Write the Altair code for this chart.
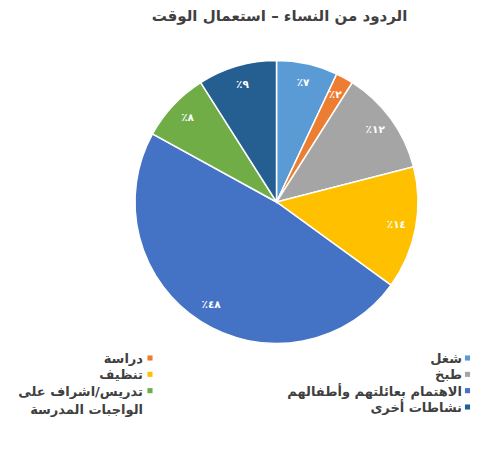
import altair as alt
import pandas as pd

title = "الردود من النساء – استعمال الوقت"
categories = [
    "شغل",
    "دراسة",
    "طبخ",
    "تنظيف",
    "الاهتمام بعائلتهم وأطفالهم",
    "تدريس/اشراف على الواجبات المدرسة",
    "نشاطات أخرى",
]
values = [7, 2, 12, 14, 48, 8, 9]
colors = ["#5B9BD5", "#ED7D31", "#A5A5A5", "#FFC000", "#4472C4", "#70AD47", "#255E91"]

AR_DIGITS = str.maketrans("0123456789", "٠١٢٣٤٥٦٧٨٩")


def ar_pct(v):
    return "\u200f" + str(v).translate(AR_DIGITS) + "٪" + "\u200f"


pie_df = pd.DataFrame({
    "cat": categories,
    "val": values,
    "order": list(range(len(categories))),
    "lbl": [ar_pct(v) for v in values],
})

leg_df = pd.DataFrame({
    "cat": categories,
    "text": [c.replace("على ", "على\n") for c in categories],
    "row": [i // 2 for i in range(len(categories))],
    "col": [i % 2 for i in range(len(categories))],
})

CX, CY, R = 268.5, 156, 141.5
FONT = "DejaVu Sans"

color_scale = alt.Scale(domain=categories, range=colors)

base = alt.Chart(pie_df).encode(
    theta=alt.Theta("val:Q", stack=True),
    order=alt.Order("order:Q"),
)

arcs = base.mark_arc(outerRadius=R, stroke="white", strokeWidth=1.5).encode(
    color=alt.Color("cat:N", scale=color_scale, legend=None),
    x=alt.value(CX),
    y=alt.value(CY),
)

labels = base.mark_text(radius=122, font=FONT, fontSize=10.5, fontWeight="bold",
                        color="white").encode(
    text="lbl:N",
    x=alt.value(CX),
    y=alt.value(CY),
)

row_scale = alt.Scale(type="point", domain=[0, 1, 2, 3], range=[312, 361], padding=0)

leg_text = alt.Chart(leg_df).mark_text(
    font=FONT, fontSize=13, fontWeight="bold", color="#404040",
    align="right", baseline="alphabetic", lineBreak="\n", lineHeight=18, dy=5,
).encode(
    x=alt.X("col:O", scale=alt.Scale(type="point", domain=[0, 1], range=[454, 135], padding=0), axis=None),
    y=alt.Y("row:O", scale=row_scale, axis=None),
    text="text:N",
)

leg_sym = alt.Chart(leg_df).mark_square(size=26, opacity=1).encode(
    x=alt.X("col:O", scale=alt.Scale(type="point", domain=[0, 1], range=[459.5, 142], padding=0), axis=None),
    y=alt.Y("row:O", scale=row_scale, axis=None),
    color=alt.Color("cat:N", scale=color_scale, legend=None),
)

chart = alt.layer(arcs, labels, leg_text, leg_sym).resolve_scale(x="independent").properties(
    width=483,
    height=396,
    padding={"top": 38, "left": 0, "right": 0, "bottom": 0},
    autosize=alt.AutoSizeParams(type="none"),
    title=alt.TitleParams(title, font=FONT, fontSize=15, fontWeight="bold",
                          color="#404040", anchor="middle", dx=30, offset=22),
).configure_view(stroke=None)

chart.save("out.html", embed_options={"renderer": "svg", "actions": False})
